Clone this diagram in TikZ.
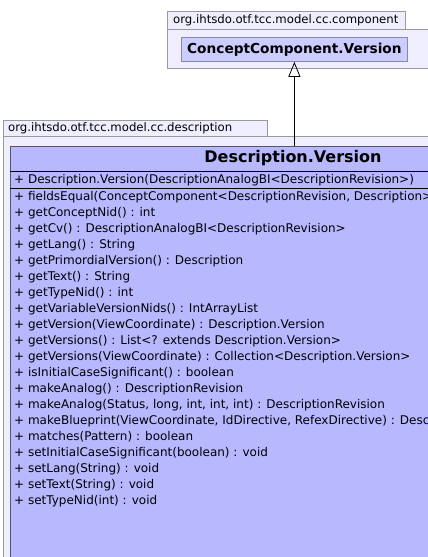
\documentclass[tikz,border=0pt]{standalone}
\usepackage{fontspec}
\setmainfont{DejaVu Sans}
\usetikzlibrary{arrows.meta}
\definecolor{pkgfill}{HTML}{EEEEFF}
\definecolor{pkgdraw}{HTML}{999999}
\definecolor{upfill}{HTML}{CCCCFF}
\definecolor{updraw}{HTML}{8888AA}
\definecolor{clsfill}{HTML}{B8B8FF}
\definecolor{clsdraw}{HTML}{555566}
\tikzset{
  pkgbox/.style={draw=pkgdraw, fill=pkgfill, line width=0.8pt, inner sep=0pt, anchor=north west},
  pkglabel/.style={anchor=west, inner sep=0pt, font=\fontsize{11.7}{13}\selectfont},
  upclass/.style={draw=updraw, fill=upfill, line width=0.8pt, inner sep=0pt, anchor=north west},
  dvclass/.style={draw=clsdraw, fill=clsfill, line width=0.9pt, inner sep=0pt, anchor=north west},
  member/.style={anchor=west, inner sep=0pt, font=\fontsize{12}{14}\selectfont},
  sep/.style={draw=black, line width=0.8pt},
  inherit/.style={draw=black, line width=0.8pt, -{Triangle[open, length=15pt, width=12pt]}}
}
\begin{document}
\begin{tikzpicture}[x=1pt, y=-1pt]
\clip (0,0) rectangle (428,557);
\fill[white] (0,0) rectangle (428,557);
% upper package
\node[pkgbox, minimum width=238pt, minimum height=18pt] (uptab) at (167,11) {};
\node[pkgbox, minimum width=300pt, minimum height=39pt] (upbody) at (167,29) {};
\node[pkglabel] (uplabel) at (173,20) {org.ihtsdo.otf.tcc.model.cc.component};
\node[upclass, minimum width=226pt, minimum height=24pt] (up) at (181,37) {};
\node[font=\fontsize{13.7}{15}\selectfont\bfseries, inner sep=0pt] (uptitle) at (up.center) {ConceptComponent.Version};
% lower package
\node[pkgbox, minimum width=264.5pt, minimum height=16pt] (dntab) at (2.5,120) {};
\node[pkgbox, minimum width=600pt, minimum height=500pt] (dnbody) at (2.5,136) {};
\node[pkglabel] (dnlabel) at (8,128) {org.ihtsdo.otf.tcc.model.cc.description};
\node[dvclass, minimum width=566pt, minimum height=480pt] (dv) at (10,146) {};
\node[font=\fontsize{16}{18}\selectfont\bfseries, inner sep=0pt] (dvtitle) at (293,158.5) {Description.Version};
\draw[sep] (10,171) -- (576,171);
\draw[sep] (10,188) -- (576,188);
\node[member] (c0) at (14,180.5) {+ Description.Version(DescriptionAnalogBI<DescriptionRevision>)};
\node[member] (m0) at (14,197) {+ fieldsEqual(ConceptComponent<DescriptionRevision, Description>, Description.Version)};
\node[member] (m1) at (14,213) {+ getConceptNid() : int};
\node[member] (m2) at (14,229) {+ getCv() : DescriptionAnalogBI<DescriptionRevision>};
\node[member] (m3) at (14,245) {+ getLang() : String};
\node[member] (m4) at (14,261) {+ getPrimordialVersion() : Description};
\node[member] (m5) at (14,277) {+ getText() : String};
\node[member] (m6) at (14,293) {+ getTypeNid() : int};
\node[member] (m7) at (14,309) {+ getVariableVersionNids() : IntArrayList};
\node[member] (m8) at (14,325) {+ getVersion(ViewCoordinate) : Description.Version};
\node[member] (m9) at (14,341) {+ getVersions() : List<? extends Description.Version>};
\node[member] (m10) at (14,357) {+ getVersions(ViewCoordinate) : Collection<Description.Version>};
\node[member] (m11) at (14,373) {+ isInitialCaseSignificant() : boolean};
\node[member] (m12) at (14,389) {+ makeAnalog() : DescriptionRevision};
\node[member] (m13) at (14,405) {+ makeAnalog(Status, long, int, int, int) : DescriptionRevision};
\node[member] (m14) at (14,421) {+ makeBlueprint(ViewCoordinate, IdDirective, RefexDirective) : DescriptionCAB};
\node[member] (m15) at (14,437) {+ matches(Pattern) : boolean};
\node[member] (m16) at (14,453) {+ setInitialCaseSignificant(boolean) : void};
\node[member] (m17) at (14,469) {+ setLang(String) : void};
\node[member] (m18) at (14,485) {+ setText(String) : void};
\node[member] (m19) at (14,501) {+ setTypeNid(int) : void};
% inheritance
\draw[inherit] (dv.north -| up.south) -- (up.south);
\end{tikzpicture}
\end{document}
